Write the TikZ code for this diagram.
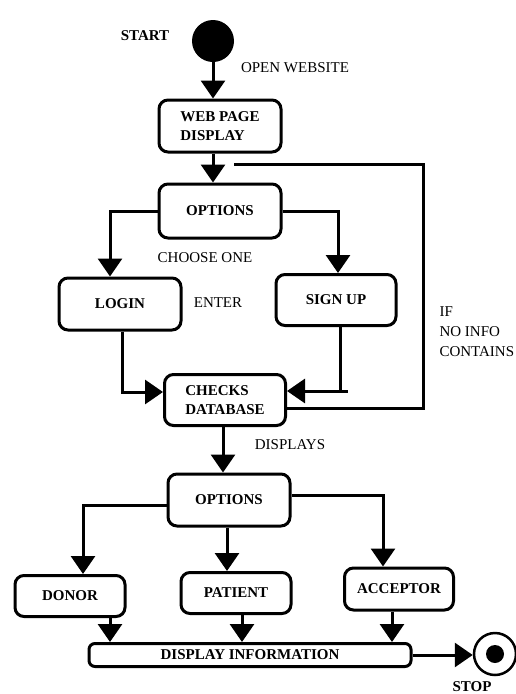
\documentclass[tikz,border=0pt]{standalone}
\usepackage{fontspec}
\setmainfont{Liberation Serif}
\usetikzlibrary{arrows.meta}

\begin{document}
\begin{tikzpicture}[x=1pt,y=-1pt,
    box/.style={shape=rectangle,draw=black,line width=3pt,rounded corners=9pt,inner sep=0pt,align=left,font=\fontsize{15}{19}\selectfont\bfseries},
    lbl/.style={font=\fontsize{15}{20}\selectfont,align=left},
    arr/.style={line width=3pt,-{Triangle[length=18pt,width=24pt]}}]
    \useasboundingbox (0,0) rectangle (516,694);
    % start and stop
    \node[shape=circle,fill=black,minimum size=42pt,inner sep=0pt] (start) at (213,41) {};
    \node[shape=circle,draw=black,line width=2.5pt,minimum size=42pt,inner sep=0pt] (stop) at (495,654) {};
    \fill[black] (stop) circle (9);
    % boxes
    \node[box,minimum width=122pt,minimum height=52pt] (web) at (220,126) {WEB PAGE\\DISPLAY};
    \node[box,minimum width=122pt,minimum height=54pt] (opt1) at (220,211) {OPTIONS};
    \node[box,minimum width=122pt,minimum height=52pt] (login) at (120,304) {LOGIN};
    \node[box,minimum width=120pt,minimum height=51pt] (signup) at (336,300) {SIGN UP};
    \node[box,minimum width=121pt,minimum height=51pt] (checks) at (225,400) {CHECKS\\DATABASE};
    \node[box,minimum width=122pt,minimum height=52pt] (opt2) at (229,500) {OPTIONS};
    \node[box,minimum width=110pt,minimum height=41pt] (donor) at (70,596) {DONOR};
    \node[box,minimum width=110pt,minimum height=41pt] (patient) at (236,593) {PATIENT};
    \node[box,minimum width=109pt,minimum height=42pt] (acceptor) at (399,589) {ACCEPTOR};
    \node[box,rounded corners=6pt,minimum width=322pt,minimum height=23pt] (info) at (250,655) {DISPLAY INFORMATION};
    % labels
    \node[lbl,font=\fontsize{15}{20}\selectfont\bfseries] (startlbl) at (145,36) {START};
    \node[lbl,font=\fontsize{15}{20}\selectfont\bfseries] (stoplbl) at (472,687) {STOP};
    \node[lbl] (openlbl) at (295,68) {OPEN WEBSITE};
    \node[lbl] (chooselbl) at (205,258) {CHOOSE ONE};
    \node[lbl] (enterlbl) at (218,303) {ENTER};
    \node[lbl,anchor=west] (iflbl) at (436,332) {IF\\NO INFO\\CONTAINS};
    \node[lbl] (displbl) at (290,445) {DISPLAYS};
    % connectors
    \coordinate (loop) at (423,164);
    \coordinate (join) at (234,164);
    \draw[arr] (start) -- (start |- web.north);
    \draw[arr] (start |- web.south) -- (start |- opt1.north);
    \draw[line width=3pt] ([yshift=-8pt]checks.east) -| (loop) -- (join);
    \draw[arr] (opt1.west) -| ([xshift=-10pt]login.north);
    \draw[arr] (opt1.east) -| ([xshift=2pt]signup.north);
    \draw[arr] ([xshift=2pt]login.south) |- ([yshift=8pt]checks.west);
    \draw[arr] ([xshift=4pt]signup.south) |- coordinate[pos=0.5] (sgc) ([yshift=9pt]checks.east);
    \draw[line width=3pt] (sgc) -- ++(8,0);
    \draw[arr] ([xshift=-2pt]checks.south) -- ([xshift=-6pt]opt2.north);
    \draw[arr] ([yshift=-5pt]opt2.west) -| ([xshift=13pt]donor.north);
    \draw[arr] ([xshift=-2pt]opt2.south) -- ([xshift=-9pt]patient.north);
    \draw[arr] ([yshift=5pt]opt2.east) -| ([xshift=-16pt]acceptor.north);
    \draw[arr] ([xshift=40pt]donor.south) -- ([xshift=-140pt]info.north);
    \draw[arr] ([xshift=6pt]patient.south) -- ([xshift=-8pt]info.north);
    \draw[arr] ([xshift=-7pt]acceptor.south) -- ([xshift=142pt]info.north);
    \draw[arr] (info.east) -- (info.east -| stop.west);
\end{tikzpicture}
\end{document}
